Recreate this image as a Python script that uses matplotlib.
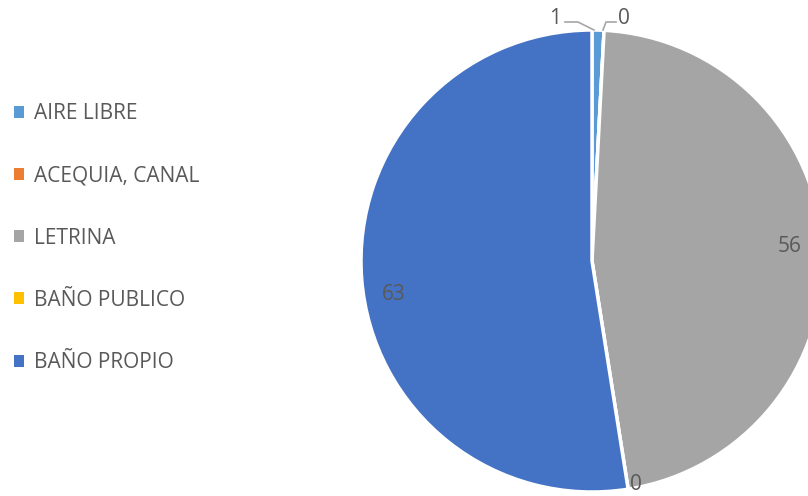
import matplotlib.pyplot as plt

# Datos del grafico
categorias = ['AIRE LIBRE', 'ACEQUIA, CANAL', 'LETRINA', 'BAÑO PUBLICO', 'BAÑO PROPIO']
valores = [1, 0, 56, 0, 63]
colores = ['#5B9BD5', '#ED7D31', '#A5A5A5', '#FFC000', '#4472C4']

gris_texto = '#595959'
plt.rcParams['font.family'] = ['Open Sans', 'DejaVu Sans']

fig = plt.figure(figsize=(8.08, 4.96), dpi=100)
ax = fig.add_axes([0, 0, 1, 1])

# pastel en coordenadas de pixel (origen abajo a la izquierda)
cx, cy, r = 592, 235, 231
wedges, _ = ax.pie(valores, colors=colores, startangle=90, counterclock=False,
                   center=(cx, cy), radius=r, frame=True,
                   wedgeprops=dict(edgecolor='white', linewidth=2.5))
ax.set_xlim(0, 808)
ax.set_ylim(0, 496)
ax.set_aspect('equal')
ax.axis('off')

# etiquetas de valores
etq = dict(color=gris_texto, fontsize=15, ha='center', va='center')
ax.text(555, 496 - 19, str(valores[0]), **etq)
ax.text(624, 496 - 19, str(valores[1]), **etq)
ax.text(790, 496 - 247, str(valores[2]), **etq)
ax.text(636, 496 - 485, str(valores[3]), **etq)
ax.text(394, 496 - 295, str(valores[4]), **etq)

# lineas guia de las etiquetas pequeñas
ax.plot([565, 578, 594], [496 - 22, 496 - 22, 496 - 30], color='#A6A6A6', lw=1.2)
ax.plot([616, 606, 603], [496 - 22, 496 - 22, 496 - 30], color='#A6A6A6', lw=1.2)

leg = ax.legend(wedges, categorias, loc='upper left', bbox_to_anchor=(-0.006, 0.83),
                frameon=False, fontsize=15, labelcolor=gris_texto,
                handlelength=0.5, handleheight=0.5, handletextpad=0.45,
                labelspacing=1.98)
for h in leg.legend_handles:
    h.set_edgecolor('none')

fig.savefig('out.png', dpi=100)
